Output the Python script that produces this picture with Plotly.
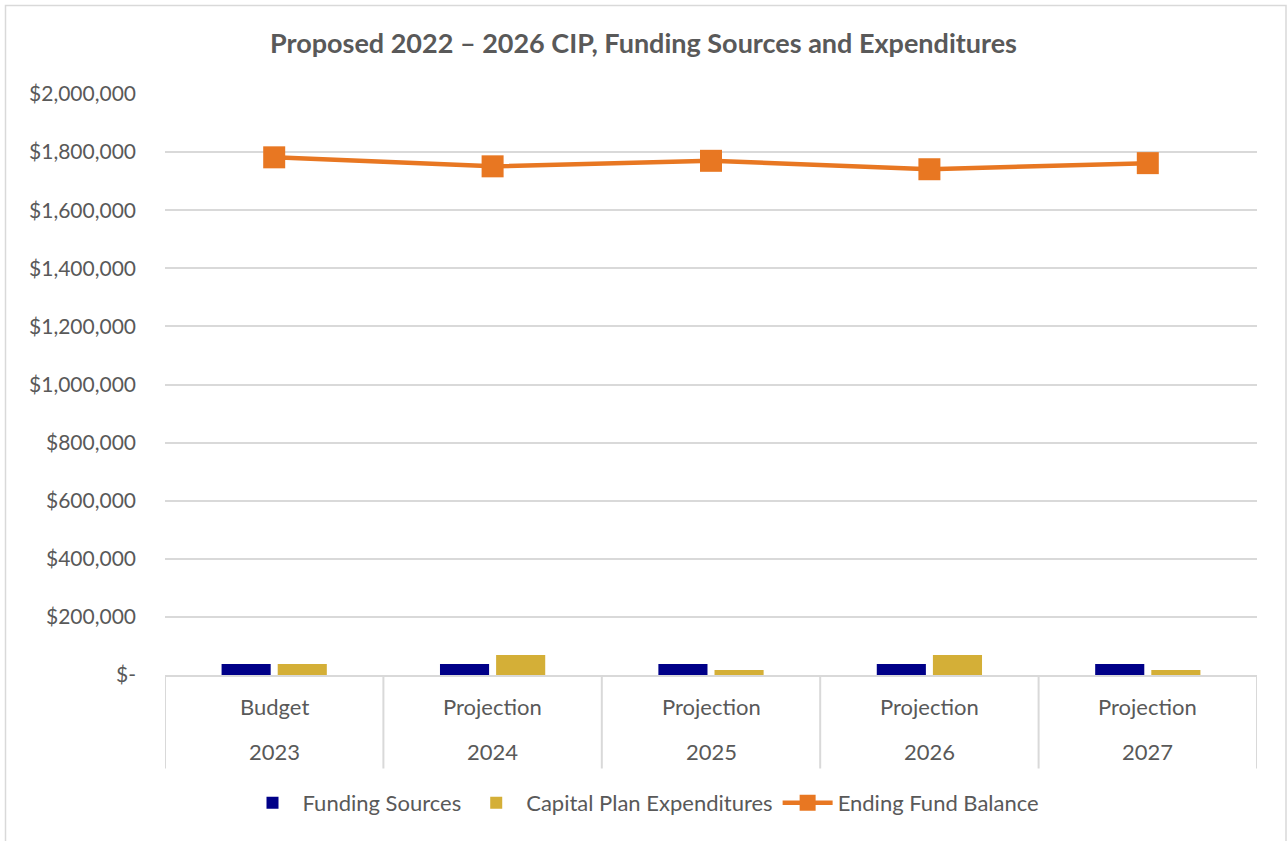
import plotly.graph_objects as go

years = ["2023", "2024", "2025", "2026", "2027"]
stages = ["Budget", "Projection", "Projection", "Projection", "Projection"]
funding_sources = [38000, 38000, 38000, 38000, 38000]
capital_expenditures = [38000, 69000, 17000, 69000, 17000]
ending_balance = [1782000, 1751000, 1770000, 1741000, 1762000]
y_tickvals = [0, 200000, 400000, 600000, 800000, 1000000, 1200000, 1400000, 1600000, 1800000, 2000000]
y_ticktext = ["$-", "$200,000", "$400,000", "$600,000", "$800,000", "$1,000,000",
              "$1,200,000", "$1,400,000", "$1,600,000", "$1,800,000", "$2,000,000"]

FONT = "Lato, 'Open Sans', sans-serif"
TXT = "#595959"
GRID = "#d9d9d9"

W, H = 1287, 841
L, R, T, B = 165, 30, 94, 166
pw, ph = W - L - R, H - T - B


def px2x(p):
    return (p - L) / pw


def py2y(p):
    return (H - B - p) / ph


fig = go.Figure()
fig.add_trace(go.Bar(name="Funding Sources", x=years, y=funding_sources,
                     marker=dict(color="#000088", line=dict(width=0))))
fig.add_trace(go.Bar(name="Capital Plan Expenditures", x=years, y=capital_expenditures,
                     marker=dict(color="#D4AF37", line=dict(width=0))))
fig.add_trace(go.Scatter(name="Ending Fund Balance", x=years, y=ending_balance,
                         mode="lines+markers",
                         line=dict(color="#E87722", width=4.5),
                         marker=dict(symbol="square", size=22, color="#E87722")))

annotations = []
for i, (yr, st) in enumerate(zip(years, stages)):
    annotations.append(dict(x=i, xref="x", y=py2y(706), yref="paper", text=st,
                            showarrow=False, xanchor="center", yanchor="middle",
                            font=dict(size=22, color=TXT, family=FONT)))
    annotations.append(dict(x=i, xref="x", y=py2y(751), yref="paper", text=yr,
                            showarrow=False, xanchor="center", yanchor="middle",
                            font=dict(size=22, color=TXT, family=FONT)))

shapes = [dict(type="rect", xref="paper", yref="paper",
               x0=px2x(5.5), x1=px2x(1286), y0=py2y(850), y1=py2y(5.5),
               line=dict(color=GRID, width=1.5), fillcolor="rgba(0,0,0,0)", layer="below")]
for i in range(len(years) + 1):
    shapes.append(dict(type="line", xref="x", yref="paper",
                       x0=i - 0.5, x1=i - 0.5, y0=0, y1=py2y(768.5),
                       line=dict(color=GRID, width=2)))

fig.update_layout(
    width=W, height=H,
    margin=dict(l=L, r=R, t=T, b=B, autoexpand=False),
    paper_bgcolor="white", plot_bgcolor="white",
    font=dict(family=FONT, color=TXT, size=22),
    title=dict(text="<b>Proposed 2022 – 2026 CIP, Funding Sources and Expenditures</b>",
               x=0.5, xref="container", xanchor="center", y=1 - 44 / H, yanchor="middle",
               font=dict(size=27, color=TXT, family=FONT)),
    barmode="group", bargap=0.486, bargroupgap=0.125,
    showlegend=True,
    legend=dict(orientation="h", x=0.5, xanchor="center", xref="container",
                y=1 - 803 / H, yref="container", yanchor="middle",
                font=dict(size=22, color=TXT), itemwidth=50,
                traceorder="normal"),
    xaxis=dict(type="category", range=[-0.5, 4.5], showgrid=False, showline=True,
               linecolor=GRID, linewidth=2, ticks="", showticklabels=False,
               automargin=False),
    yaxis=dict(range=[0, 2000000], tickvals=y_tickvals, ticktext=y_ticktext,
               showgrid=True, gridcolor=GRID, gridwidth=1.5, zeroline=False,
               showline=False, ticks="", tickfont=dict(size=21, color=TXT),
               ticklabelstandoff=28, automargin=False),
    annotations=annotations,
    shapes=shapes,
)

fig.write_html("out.html", config={"displayModeBar": False},
               post_script="document.body.style.margin='0';")
